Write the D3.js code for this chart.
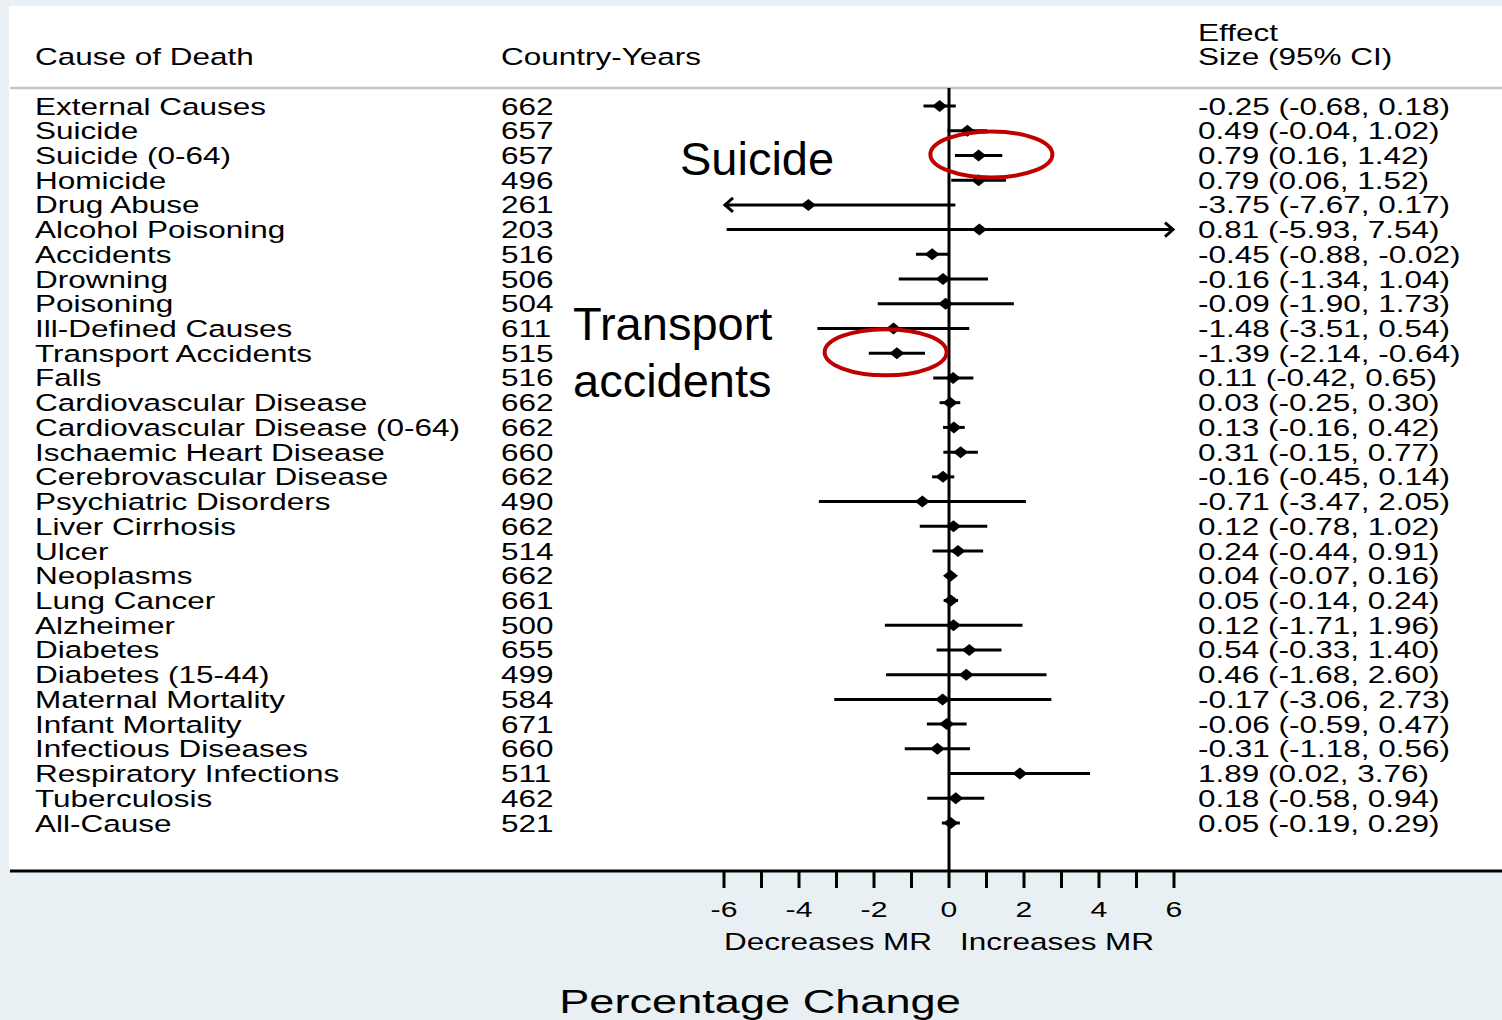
<!DOCTYPE html>
<html><head><meta charset="utf-8">
<script src="https://cdn.jsdelivr.net/npm/d3@7"></script>
<style>
html,body{margin:0;padding:0;background:#e8f0f3;}
svg{display:block;}
text{font-family:"Liberation Sans",Arial,Helvetica,sans-serif;fill:#000;}
</style></head><body>
<svg id="chart" width="1502" height="1020"></svg>
<script>
const causes = ["External Causes","Suicide","Suicide (0-64)","Homicide","Drug Abuse","Alcohol Poisoning","Accidents","Drowning","Poisoning","Ill-Defined Causes","Transport Accidents","Falls","Cardiovascular Disease","Cardiovascular Disease (0-64)","Ischaemic Heart Disease","Cerebrovascular Disease","Psychiatric Disorders","Liver Cirrhosis","Ulcer","Neoplasms","Lung Cancer","Alzheimer","Diabetes","Diabetes (15-44)","Maternal Mortality","Infant Mortality","Infectious Diseases","Respiratory Infections","Tuberculosis","All-Cause"];
const countryYears = [662,657,657,496,261,203,516,506,504,611,515,516,662,662,660,662,490,662,514,662,661,500,655,499,584,671,660,511,462,521];
const estimate = [-0.25,0.49,0.79,0.79,-3.75,0.81,-0.45,-0.16,-0.09,-1.48,-1.39,0.11,0.03,0.13,0.31,-0.16,-0.71,0.12,0.24,0.04,0.05,0.12,0.54,0.46,-0.17,-0.06,-0.31,1.89,0.18,0.05];
const lower = [-0.68,-0.04,0.16,0.06,-7.67,-5.93,-0.88,-1.34,-1.90,-3.51,-2.14,-0.42,-0.25,-0.16,-0.15,-0.45,-3.47,-0.78,-0.44,-0.07,-0.14,-1.71,-0.33,-1.68,-3.06,-0.59,-1.18,0.02,-0.58,-0.19];
const upper = [0.18,1.02,1.42,1.52,0.17,7.54,-0.02,1.04,1.73,0.54,-0.64,0.65,0.30,0.42,0.77,0.14,2.05,1.02,0.91,0.16,0.24,1.96,1.40,2.60,2.73,0.47,0.56,3.76,0.94,0.29];
const tickValues = [-6,-4,-2,0,2,4,6];
const minorTicks = [-6,-5,-4,-3,-2,-1,0,1,2,3,4,5,6];
const headers = {cause:"Cause of Death", count:"Country-Years", effect1:"Effect", effect2:"Size (95% CI)"};
const axisTitle = "Percentage Change";
const sideLabels = ["Decreases MR","Increases MR"];
// annotations: text labels and highlighted rows
const annoTexts = [{lines:["Suicide"], x:680, y:175},{lines:["Transport","accidents"], x:573, y:340}];
const highlightRows = [{row:"Suicide (0-64)", cx:1.13}, {row:"Transport Accidents", cx:-1.69}];

const svg = d3.select("#chart");
const W = 1502, H = 1020;
const SX = 1.34; // horizontal stretch of text as in original
const fmt = v => v.toFixed(2);

// Panel
svg.append("rect").attr("x",0).attr("y",0).attr("width",W).attr("height",H).attr("fill","#e8f0f3");
svg.append("rect").attr("x",9).attr("y",6).attr("width",W-9).attr("height",864).attr("fill","#fff");
svg.append("line").attr("x1",10).attr("x2",W).attr("y1",88).attr("y2",88).attr("stroke","#c4c4c4").attr("stroke-width",2.5);

const x = d3.scaleLinear().domain([-6,6]).range([724,1174]);
const y = d3.scalePoint().domain(causes).range([106,823]);

function stext(g, str, px, py, size, anchor){
  return g.append("text").attr("transform",`translate(${px},${py}) scale(${SX},1)`)
    .attr("text-anchor",anchor||"start").attr("font-size",size).text(str);
}

// headers
stext(svg, headers.cause, 35, 65, 23.5);
stext(svg, headers.count, 501, 65, 23.5);
stext(svg, headers.effect1, 1198, 41, 23.5);
stext(svg, headers.effect2, 1198, 65, 23.5);

// rows text
causes.forEach((c,i)=>{
  const yy = y(c)+8.5;
  stext(svg, c, 35, yy, 23.5);
  stext(svg, String(countryYears[i]), 501, yy, 23.5);
  stext(svg, `${fmt(estimate[i])} (${fmt(lower[i])}, ${fmt(upper[i])})`, 1198, yy, 23.5);
});

// zero line
svg.append("line").attr("x1",x(0)).attr("x2",x(0)).attr("y1",88).attr("y2",870).attr("stroke","#000").attr("stroke-width",3);

// CIs
const g = svg.append("g");
causes.forEach((c,i)=>{
  const yy = y(c);
  const lo = Math.max(lower[i],-6), hi = Math.min(upper[i],6);
  g.append("line").attr("x1",x(lo)).attr("x2",x(hi)).attr("y1",yy).attr("y2",yy).attr("stroke","#000").attr("stroke-width",3);
  if (lower[i] < -6){
    g.append("path").attr("d",`M${x(-6)+9},${yy-7}L${x(-6)+1},${yy}L${x(-6)+9},${yy+7}`).attr("fill","none").attr("stroke","#000").attr("stroke-width",3);
  }
  if (upper[i] > 6){
    g.append("path").attr("d",`M${x(6)-9},${yy-7}L${x(6)-1},${yy}L${x(6)-9},${yy+7}`).attr("fill","none").attr("stroke","#000").attr("stroke-width",3);
  }
  const cx = x(estimate[i]);
  g.append("path").attr("d",`M${cx-7.5},${yy}L${cx},${yy-6}L${cx+7.5},${yy}L${cx},${yy+6}Z`).attr("fill","#000");
});

// bottom axis line
svg.append("line").attr("x1",10).attr("x2",W).attr("y1",871).attr("y2",871).attr("stroke","#000").attr("stroke-width",3);
minorTicks.forEach(t=>{
  svg.append("line").attr("x1",x(t)).attr("x2",x(t)).attr("y1",871).attr("y2",888).attr("stroke","#000").attr("stroke-width",3);
});
tickValues.forEach(t=>{
  stext(svg, String(t), x(t), 917, 22.5, "middle");
});
stext(svg, sideLabels[0], 828, 950, 23.5, "middle");
stext(svg, sideLabels[1], 1057, 950, 23.5, "middle");
stext(svg, axisTitle, 760, 1013, 33.7, "middle");

// annotations
annoTexts.forEach(a=>{
  a.lines.forEach((l,k)=>{
    svg.append("text").attr("x",a.x).attr("y",a.y+k*57).attr("font-size",47).text(l);
  });
});
highlightRows.forEach(h=>{
  svg.append("ellipse").attr("cx",x(h.cx)).attr("cy",y(h.row)-1).attr("rx",61).attr("ry",23)
    .attr("fill","none").attr("stroke","#c00000").attr("stroke-width",4);
});
</script>
</body></html>
